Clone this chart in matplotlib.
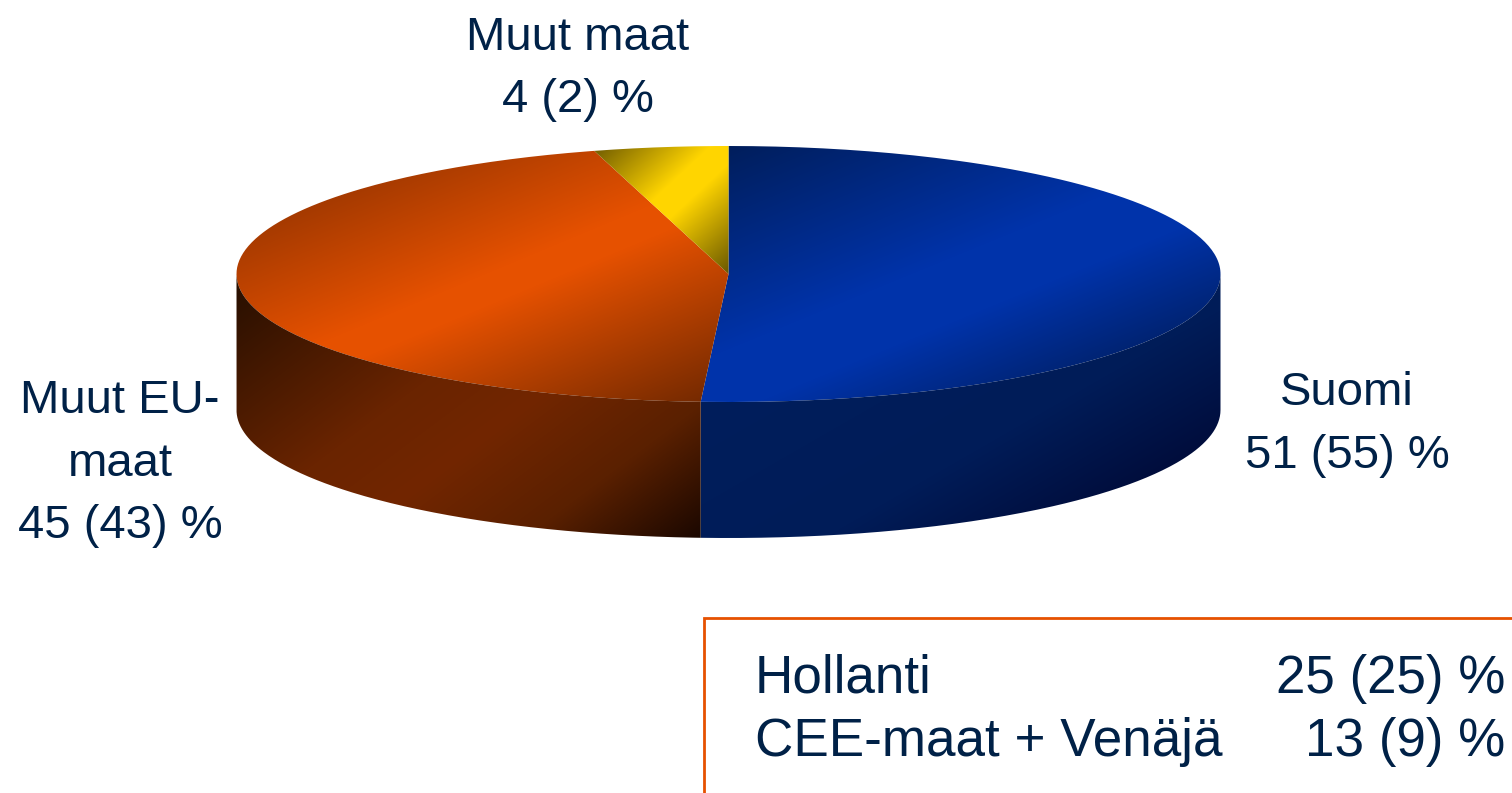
import numpy as np
import matplotlib
matplotlib.use('Agg')
import matplotlib.pyplot as plt
from matplotlib.colors import to_rgb
from matplotlib.patches import PathPatch
from matplotlib.path import Path

# slices, clockwise from 12 o'clock (shares, labels are rounded)
slice_names = ['Suomi', 'Muut EU-\nmaat', 'Muut maat']
drawn_shares = [50.9, 44.7, 4.4]
label_now = [51, 45, 4]
label_prev = [55, 43, 2]

# box below the pie
box_names = ['Hollanti', 'CEE-maat + Venäjä']
box_now = [25, 13]
box_prev = [25, 9]

TEXT = '#002147'
ORANGE = '#E65100'
cx, cy, rx, ry, depth = 728.5, 274, 492, 128, 136

plt.rcParams['font.family'] = ['Liberation Sans', 'DejaVu Sans']
fig = plt.figure(figsize=(15.12, 7.93), dpi=100)
ax = fig.add_axes([0, 0, 1, 1])
ax.set_xlim(0, 1512)
ax.set_ylim(793, 0)
ax.axis('off')

yy, xx = np.mgrid[0:793, 0:1512]


def shaded(path, normal, stops):
    # diagonal gradient, clipped to the slice outline
    t = (xx + 0.5) * normal[0] + (yy + 0.5) * normal[1]
    pos = [s[0] for s in stops]
    cols = np.array([to_rgb(s[1]) for s in stops])
    img = np.dstack([np.interp(t, pos, cols[:, i]) for i in range(3)])
    im = ax.imshow(img, extent=(0, 1512, 793, 0), aspect='auto', interpolation='nearest', zorder=2)
    patch = PathPatch(path, fc='none', ec='none', transform=ax.transData)
    ax.add_patch(patch)
    im.set_clip_path(patch)


def rim(theta):
    return cx + rx * np.sin(theta), cy - ry * np.cos(theta)


def top_path(a, b):
    th = np.radians(np.linspace(a, b, 200))
    x, y = rim(th)
    pts = [(cx, cy)] + list(zip(x, y)) + [(cx, cy)]
    return Path(pts)


def side_path(a, b):
    th = np.radians(np.linspace(a, b, 200))
    x, y = rim(th)
    pts = list(zip(x, y)) + list(zip(x[::-1], y[::-1] + depth))
    return Path(pts + [pts[0]])


edges = np.concatenate([[0], np.cumsum(drawn_shares)]) / sum(drawn_shares) * 360

top_shades = [
    ((0.38, 0.925), [(413, '#001E5C'), (600, '#0033AA'), (660, '#0033AA'), (760, '#00226E')]),
    ((0.385, 0.923), [(300, '#A03800'), (440, ORANGE), (470, ORANGE), (640, '#762A00')]),
    ((0.68, 0.73), [(518, '#7A6400'), (590, '#FFD500'), (615, '#FFD500'), (695, '#6A5800')]),
]
for i in range(3):
    shaded(top_path(edges[i], edges[i + 1]), *top_shades[i])

# only the front half of the rim is visible
shaded(side_path(90, edges[1]), (0.5, 0.87),
       [(700, '#001E5C'), (880, '#001C58'), (1000, '#000C3A'), (1030, '#000830')])
shaded(side_path(edges[1], 270), (0.6, 0.8),
       [(376, '#2A1000'), (560, '#6A2400'), (640, '#722600'), (745, '#5A2000'), (848, '#1C0800')])

label_spots = [(1347, 405), (120, 413), (578, 50)]
line_h = 62.5
for name, now, prev, (lx, ly) in zip(slice_names, label_now, label_prev, label_spots):
    lines = name.split('\n') + [f'{now} ({prev}) %']
    for k, line in enumerate(lines):
        ax.text(lx, ly + k * line_h, line, fontsize=34, color=TEXT, ha='center', va='baseline', zorder=3)

# orange frame runs off the right and bottom of the picture
ax.plot([703.5, 703.5, 1512], [793, 617.5, 617.5], color=ORANGE, lw=2, solid_joinstyle='miter', zorder=3)

for k, (name, now, prev) in enumerate(zip(box_names, box_now, box_prev)):
    by = 692.5 + k * 63.5
    ax.text(755, by, name, fontsize=38.2, color=TEXT, ha='left', va='baseline', zorder=3)
    ax.text(1505, by, f'{now} ({prev}) %', fontsize=38.2, color=TEXT, ha='right', va='baseline', zorder=3)

fig.savefig('out.png', dpi=100, facecolor='white')
